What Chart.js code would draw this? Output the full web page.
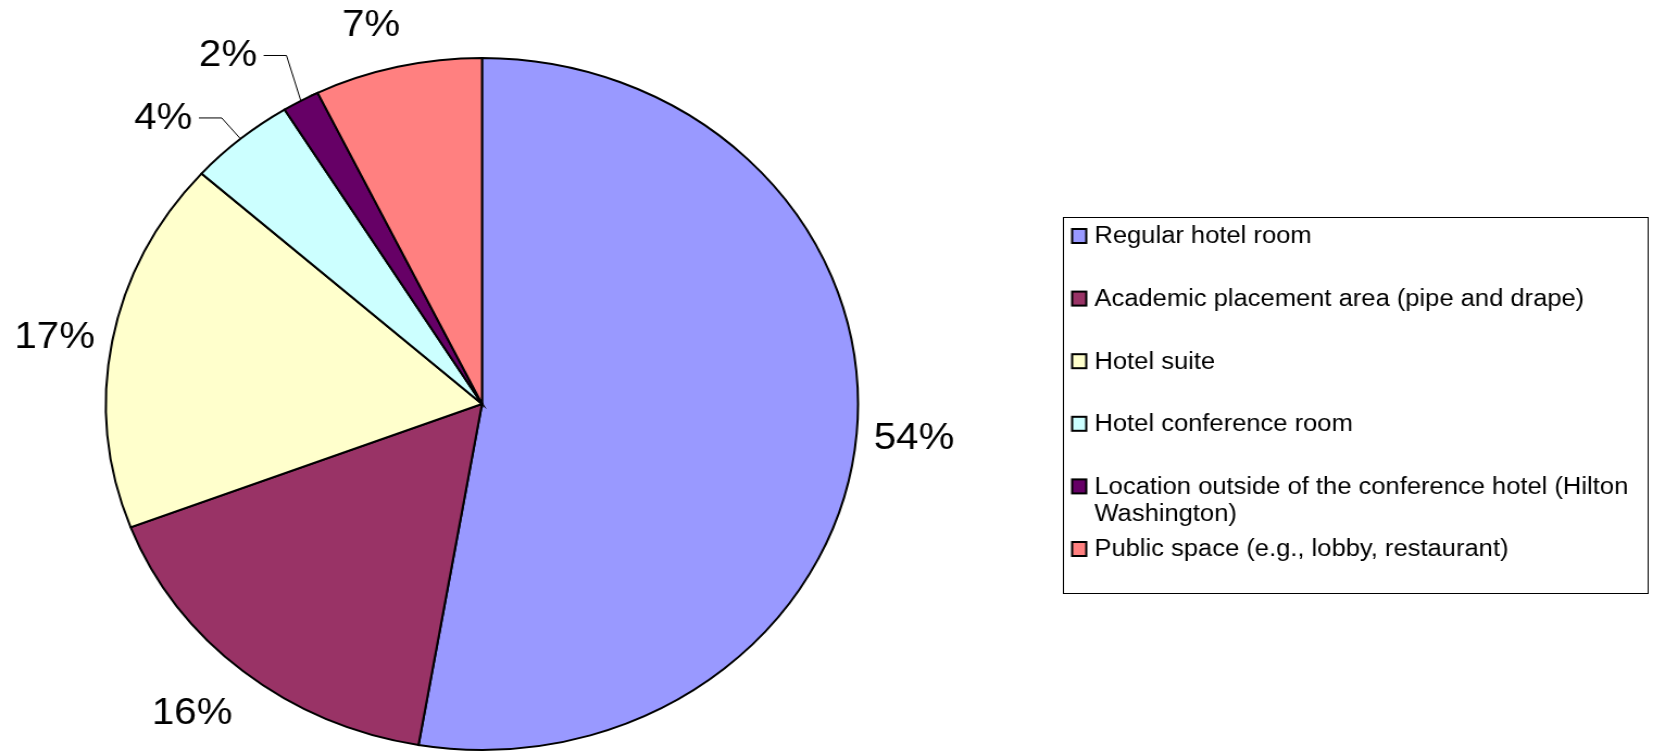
<!DOCTYPE html>
<html>
<head>
<meta charset="utf-8">
<title>Meeting locations</title>
<script src="https://cdn.jsdelivr.net/npm/chart.js@4.4.1/dist/chart.umd.min.js"></script>
<style>
    html, body { margin: 0; padding: 0; background: #fff; overflow: hidden; }
    /* the original picture is stretched sideways, so the whole canvas is too */
    #wrap { width: 1521px; height: 752px; transform: scaleX(1.0868); transform-origin: 0 0; }
</style>
</head>
<body>
<div id="wrap"><canvas id="locationChart" width="1521" height="752"></canvas></div>
<script>
// 数据
const categories = [
    'Regular hotel room',
    'Academic placement area (pipe and drape)',
    'Hotel suite',
    'Hotel conference room',
    'Location outside of the conference hotel (Hilton Washington)',
    'Public space (e.g., lobby, restaurant)'
];
const shares = [52.7, 16.5, 17.4, 4.6, 1.6, 7.2];
const percentTexts = ['54%', '16%', '17%', '4%', '2%', '7%'];
const sliceColors = ['#9999FF', '#993366', '#FFFFCC', '#CCFFFF', '#660066', '#FF8080'];

const FONT = '"Liberation Sans", Arial, sans-serif';

// 百分比标签（外侧，小扇区带引线）
const percentLabels = {
    id: 'percentLabels',
    afterDatasetsDraw(chart, args, opts) {
        const ctx = chart.ctx;
        const arcs = chart.getDatasetMeta(0).data;
        ctx.save();
        ctx.font = opts.font;
        ctx.fillStyle = '#000';
        ctx.strokeStyle = '#000';
        ctx.lineWidth = 1;
        ctx.textAlign = 'center';
        ctx.textBaseline = 'middle';
        arcs.forEach((arc, i) => {
            const p = arc.getProps(['x', 'y', 'startAngle', 'endAngle', 'outerRadius'], true);
            const place = opts.placement[i];
            const mid = (p.startAngle + p.endAngle) / 2;
            const a = mid + place.da * Math.PI / 180;
            const r = p.outerRadius + place.dr;
            const lx = p.x + Math.cos(a) * r;
            const ly = p.y + Math.sin(a) * r;
            ctx.fillText(percentTexts[i], lx, ly + 1);
            if (place.leader) {
                const right = lx + ctx.measureText(percentTexts[i]).width / 2;
                const ex = p.x + Math.cos(mid) * p.outerRadius;
                const ey = p.y + Math.sin(mid) * p.outerRadius;
                ctx.beginPath();
                ctx.moveTo(right + 6, ly + 0.5);
                ctx.lineTo(right + 27, ly + 0.5);
                ctx.lineTo(ex, ey);
                ctx.stroke();
            }
        });
        ctx.restore();
    }
};

// 右侧图例框
const boxLegend = {
    id: 'boxLegend',
    afterDraw(chart, args, o) {
        const ctx = chart.ctx;
        const colors = chart.data.datasets[0].backgroundColor;
        ctx.save();
        ctx.strokeStyle = '#000';
        ctx.lineWidth = 1;
        ctx.strokeRect(o.left + 0.5, o.top + 0.5, o.width, o.height);
        ctx.font = o.font;
        ctx.textBaseline = 'middle';
        ctx.textAlign = 'left';
        const textX = o.left + o.textOffset;
        const maxW = o.left + o.width - textX - 3;
        chart.data.labels.forEach((label, i) => {
            const y = o.firstY + i * o.step;
            ctx.fillStyle = colors[i];
            ctx.fillRect(o.left + 8.5, y - 7, 13, 14);
            ctx.lineWidth = 2;
            ctx.strokeStyle = '#000';
            ctx.strokeRect(o.left + 8.5, y - 7, 13, 14);

            // 自动换行
            const words = label.split(' ');
            const lines = [];
            let line = '';
            words.forEach(w => {
                const test = line ? line + ' ' + w : w;
                if (ctx.measureText(test).width > maxW && line) {
                    lines.push(line);
                    line = w;
                } else {
                    line = test;
                }
            });
            lines.push(line);
            ctx.fillStyle = '#000';
            lines.forEach((t, k) => ctx.fillText(t, textX, y + 1 + k * o.lineHeight));
        });
        ctx.restore();
    }
};

const ctx = document.getElementById('locationChart').getContext('2d');
const locationChart = new Chart(ctx, {
    type: 'pie',
    data: {
        labels: categories,
        datasets: [{
            data: shares,
            backgroundColor: sliceColors,
            borderColor: '#000',
            borderWidth: 2,
            borderJoinStyle: 'miter'
        }]
    },
    options: {
        responsive: false,
        animation: false,
        layout: {
            padding: { left: 96.5, top: 57, right: 730.5, bottom: 1 }
        },
        plugins: {
            legend: { display: false },
            tooltip: { enabled: false },
            percentLabels: {
                font: '37px ' + FONT,
                placement: [
                    { da: 0, dr: 53 },
                    { da: 1.4, dr: 62 },
                    { da: -0.7, dr: 53 },
                    { da: -5.7, dr: 64, leader: true },
                    { da: -5, dr: 74, leader: true },
                    { da: -2.1, dr: 47 }
                ]
            },
            boxLegend: {
                left: 978, top: 217, width: 538, height: 376,
                textOffset: 29,
                firstY: 236, step: 62.6, lineHeight: 27,
                font: '23.5px ' + FONT
            }
        }
    },
    plugins: [percentLabels, boxLegend]
});
</script>
</body>
</html>
